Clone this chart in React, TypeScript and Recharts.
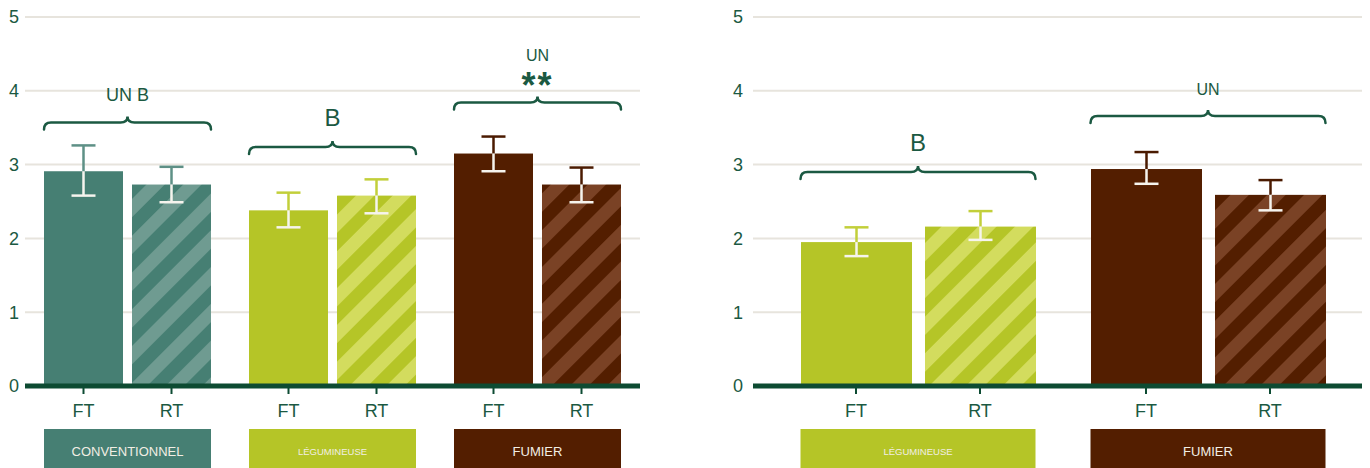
import React from 'react'
import { BarChart, Bar, XAxis, YAxis, CartesianGrid, ReferenceArea } from 'recharts'

// left panel
const leftGroups = ['CONVENTIONNEL', 'LÉGUMINEUSE', 'FUMIER']
const leftFt = [2.91, 2.38, 3.15]
const leftRt = [2.73, 2.58, 2.73]
const leftFtErr = [[2.58, 3.26], [2.15, 2.62], [2.91, 3.38]]
const leftRtErr = [[2.49, 2.97], [2.34, 2.8], [2.49, 2.96]]

// right panel
const rightGroups = ['LÉGUMINEUSE', 'FUMIER']
const rightFt = [1.95, 2.94]
const rightRt = [2.16, 2.59]
const rightFtErr = [[1.76, 2.15], [2.74, 3.17]]
const rightRtErr = [[1.98, 2.37], [2.38, 2.79]]

const subLabels = ['FT', 'RT']
const yTicks = [0, 1, 2, 3, 4, 5]

// significance brackets (level in y units, text lines top to bottom)
const leftMarks = [
  { group: 'CONVENTIONNEL', level: 3.57, text: ['UN B'] },
  { group: 'LÉGUMINEUSE', level: 3.24, text: ['B'] },
  { group: 'FUMIER', level: 3.84, text: ['UN', '**'] },
]
const rightMarks = [
  { group: 'LÉGUMINEUSE', level: 2.9, text: ['B'] },
  { group: 'FUMIER', level: 3.66, text: ['UN'] },
]

const FONT = "'Liberation Sans', Arial, sans-serif"
const DARK = '#1b5942'
const AXIS = '#0d4b32'

const palette: Record<string, { id: string; solid: string; light: string; err: string; labelSize: number }> = {
  CONVENTIONNEL: { id: 'conv', solid: '#467f73', light: '#6f9b91', err: '#5e9086', labelSize: 13 },
  'LÉGUMINEUSE': { id: 'leg', solid: '#b5c527', light: '#d3dc5e', err: '#c2cf3a', labelSize: 9.5 },
  FUMIER: { id: 'fum', solid: '#531e00', light: '#7a4225', err: '#4a1a00', labelSize: 13 },
}

const textStyle: Record<string, { size: number; weight: number; dy: number }> = {
  'UN B': { size: 18, weight: 400, dy: -28 },
  B: { size: 24, weight: 400, dy: -29 },
  UN: { size: 16, weight: 400, dy: -26 },
  '**': { size: 36, weight: 700, dy: -22 },
}

function buildRows(groups: string[], ft: number[], rt: number[], ftErr: number[][], rtErr: number[][]) {
  return groups.map((g, i) => ({ group: g, ft: ft[i], rt: rt[i], ftErr: ftErr[i], rtErr: rtErr[i] }))
}

const leftData = buildRows(leftGroups, leftFt, leftRt, leftFtErr, leftRtErr)
const rightData = buildRows(rightGroups, rightFt, rightRt, rightFtErr, rightRtErr)

const makeBarShape = (key: 'ft' | 'rt') => (props: any) => {
  const { x, y, width, height, payload } = props
  const val = payload[key]
  const [lo, hi] = payload[key + 'Err']
  const c = palette[payload.group]
  const unit = height / val
  const base = y + height
  const yHi = base - hi * unit
  const yLo = base - lo * unit
  const cx = x + width / 2
  const cap = 12
  const fill = key === 'ft' ? c.solid : `url(#stripe-${c.id})`
  return (
    <g>
      <rect x={x} y={y} width={width} height={height} fill={fill} />
      <line x1={cx} x2={cx} y1={yHi} y2={y} stroke={c.err} strokeWidth={2.5} />
      <line x1={cx - cap} x2={cx + cap} y1={yHi} y2={yHi} stroke={c.err} strokeWidth={2.5} />
      <line x1={cx} x2={cx} y1={y} y2={yLo} stroke="#f6f4ee" strokeWidth={2.5} />
      <line x1={cx - cap} x2={cx + cap} y1={yLo} y2={yLo} stroke="#f6f4ee" strokeWidth={2.5} />
    </g>
  )
}

const makeTick = (barSize: number, gap: number) => (props: any) => {
  const { x, y, payload } = props
  const c = palette[payload.value]
  const off = (barSize + gap) / 2
  const groupW = barSize * 2 + gap
  return (
    <g fontFamily={FONT}>
      {[-off, off].map((d, i) => (
        <g key={i}>
          <line x1={x + d} x2={x + d} y1={y + 2} y2={y + 8} stroke={AXIS} strokeWidth={2} />
          <text x={x + d} y={y + 25} textAnchor="middle" dominantBaseline="central" fontSize={18} fill={DARK}>
            {subLabels[i]}
          </text>
        </g>
      ))}
      <rect x={x - groupW / 2} y={y + 43} width={groupW} height={50} fill={c.solid} />
      <text x={x} y={y + 65} textAnchor="middle" dominantBaseline="central" fontSize={c.labelSize} fill="#f2eee4">
        {payload.value}
      </text>
    </g>
  )
}

const makeBracket = (groupW: number, lines: string[]) => (props: any) => {
  const { x, y, width } = props
  const cx = x + width / 2
  const L = cx - groupW / 2
  const R = cx + groupW / 2
  const d = `M${L},${y + 7} Q${L},${y} ${L + 7},${y} L${cx - 7},${y} Q${cx},${y} ${cx},${y - 6} Q${cx},${y} ${cx + 7},${y} L${R - 7},${y} Q${R},${y} ${R},${y + 7}`
  const n = lines.length
  return (
    <g>
      <path d={d} fill="none" stroke={DARK} strokeWidth={2.5} strokeLinecap="round" />
      {lines.map((t, i) => {
        const s = textStyle[t]
        const stackUp = (n - 1 - i) * 21
        const isStar = t === '**'
        return (
          <text
            key={t}
            x={cx}
            y={isStar ? y - 5 : y + s.dy - stackUp}
            textAnchor="middle"
            dominantBaseline={isStar ? 'auto' : 'central'}
            fontFamily={FONT}
            fontSize={s.size}
            fontWeight={s.weight}
            letterSpacing={isStar ? 2 : 0}
            fill={DARK}
          >
            {t}
          </text>
        )
      })}
    </g>
  )
}

function Panel({ data, marks, width, yWidth, tickMargin, barSize, gap, padding, marginRight }: any) {
  const groupW = barSize * 2 + gap
  return (
    <BarChart
      width={width}
      height={468}
      data={data}
      margin={{ top: 17, right: marginRight, bottom: 0, left: 0 }}
      barSize={barSize}
      barGap={gap}
    >
      <CartesianGrid vertical={false} stroke="#e7e4dd" strokeWidth={2} />
      <YAxis
        domain={[0, 5]}
        ticks={yTicks}
        width={yWidth}
        axisLine={false}
        tickLine={false}
        tickSize={0}
        tickMargin={tickMargin}
        tick={{ fontSize: 18, fill: DARK, fontFamily: FONT }}
      />
      <XAxis
        dataKey="group"
        height={82}
        interval={0}
        padding={padding}
        axisLine={{ stroke: AXIS, strokeWidth: 5 }}
        tickLine={false}
        tickSize={0}
        tickMargin={0}
        tick={makeTick(barSize, gap)}
      />
      <Bar dataKey="ft" shape={makeBarShape('ft')} isAnimationActive={false} />
      <Bar dataKey="rt" shape={makeBarShape('rt')} isAnimationActive={false} />
      {marks.map((m: any) => (
        <ReferenceArea
          key={m.group}
          x1={m.group}
          x2={m.group}
          y1={m.level - 0.2}
          y2={m.level}
          ifOverflow="visible"
          shape={makeBracket(groupW, m.text)}
        />
      ))}
    </BarChart>
  )
}

export default function App() {
  return (
    <div style={{ position: 'absolute', left: 0, top: 0, width: 1370, height: 468, background: '#fff', overflow: 'hidden' }}>
      <svg width={0} height={0} style={{ position: 'absolute' }}>
        <defs>
          {Object.values(palette).map((c) => (
            <pattern
              key={c.id}
              id={`stripe-${c.id}`}
              patternUnits="userSpaceOnUse"
              width={26}
              height={26}
              patternTransform="rotate(45)"
            >
              <rect x={0} y={0} width={26} height={26} fill={c.solid} />
              <rect x={0} y={0} width={13} height={26} fill={c.light} />
            </pattern>
          ))}
        </defs>
      </svg>
      <div style={{ position: 'absolute', left: 0, top: 0 }}>
        <Panel
          data={leftData}
          marks={leftMarks}
          width={640}
          yWidth={25}
          tickMargin={6}
          barSize={79}
          gap={9}
          padding={{ left: 0, right: 0 }}
          marginRight={0}
        />
      </div>
      <div style={{ position: 'absolute', left: 690, top: 0 }}>
        <Panel
          data={rightData}
          marks={rightMarks}
          width={680}
          yWidth={63}
          tickMargin={10}
          barSize={111}
          gap={13}
          padding={{ left: 20, right: 9 }}
          marginRight={8}
        />
      </div>
    </div>
  )
}
